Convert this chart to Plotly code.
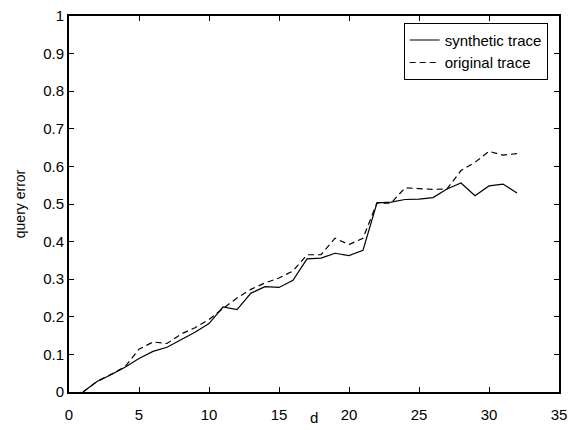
import plotly.graph_objects as go

d = list(range(1, 33))
synthetic = [0.0, 0.028, 0.046, 0.066, 0.089, 0.108, 0.119, 0.138, 0.159, 0.182,
             0.226, 0.219, 0.263, 0.280, 0.278, 0.297, 0.354, 0.356, 0.369, 0.363,
             0.377, 0.503, 0.505, 0.512, 0.513, 0.517, 0.540, 0.556, 0.522, 0.548,
             0.553, 0.529]
original = [0.0, 0.028, 0.047, 0.067, 0.114, 0.133, 0.129, 0.154, 0.171, 0.193,
            0.222, 0.250, 0.273, 0.290, 0.303, 0.322, 0.365, 0.365, 0.409, 0.392,
            0.409, 0.503, 0.502, 0.543, 0.541, 0.539, 0.540, 0.589, 0.611, 0.640,
            0.630, 0.634]

x_ticks = [0, 5, 10, 15, 20, 25, 30, 35]
y_ticks = [0, 0.1, 0.2, 0.3, 0.4, 0.5, 0.6, 0.7, 0.8, 0.9, 1]
y_labels = ["0", "0.1", "0.2", "0.3", "0.4", "0.5", "0.6", "0.7", "0.8", "0.9", "1"]

FONT = "Liberation Sans, Arial, sans-serif"

fig = go.Figure()
fig.add_trace(go.Scatter(x=d, y=synthetic, mode="lines", name="synthetic trace",
                         line=dict(color="black", width=1.2)))
fig.add_trace(go.Scatter(x=d, y=original, mode="lines", name="original trace",
                         line=dict(color="black", width=1.2, dash="6px,4px")))

axis_common = dict(showgrid=False, zeroline=False, showline=True, linecolor="black",
                   linewidth=2, mirror="ticks", ticks="inside", ticklen=5,
                   tickcolor="black", tickwidth=1,
                   tickfont=dict(family=FONT, size=15, color="black"))

fig.update_xaxes(range=[0, 35], tickvals=x_ticks, ticklabelstandoff=8, **axis_common)
fig.update_yaxes(range=[0, 1], tickvals=y_ticks, ticktext=y_labels,
                 title=dict(text="query error", standoff=14,
                            font=dict(family=FONT, size=14, color="black")),
                 ticklabelstandoff=0, **axis_common)

fig.add_annotation(text="d", xref="paper", yref="paper", x=0.5, y=-0.04,
                   xanchor="center", yanchor="top", showarrow=False,
                   font=dict(family=FONT, size=15, color="black"))

fig.update_layout(
    width=574, height=430,
    margin=dict(l=69, r=7, t=7, b=30),
    paper_bgcolor="white", plot_bgcolor="white",
    font=dict(family=FONT, size=14, color="black"),
    legend=dict(x=0.683, y=0.982, xanchor="left", yanchor="top",
                bgcolor="white", bordercolor="black", borderwidth=1,
                font=dict(family=FONT, size=15, color="black"),
                tracegroupgap=0, itemwidth=30),
    showlegend=True,
)

fig.write_html("out.html")
